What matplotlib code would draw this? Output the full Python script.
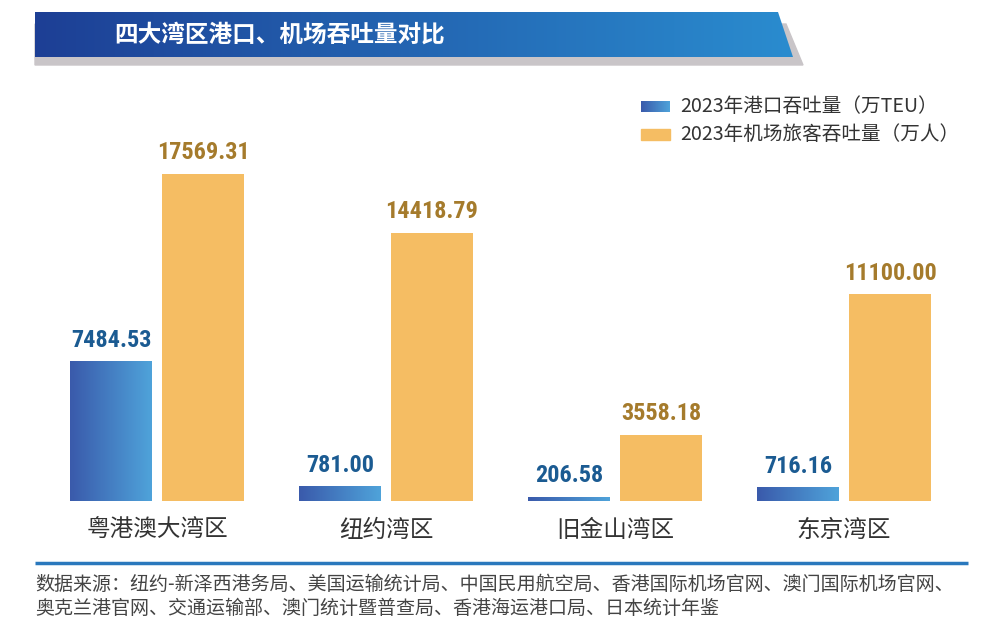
import matplotlib
matplotlib.use("Agg")
import matplotlib.pyplot as plt
import numpy as np
from matplotlib.patches import Polygon
from matplotlib import font_manager

plt.rcParams['font.family'] = ['Noto Sans CJK SC', 'DejaVu Sans']

# data
regions = ['粤港澳大湾区', '纽约湾区', '旧金山湾区', '东京湾区']
port_teu = [7484.53, 781.00, 206.58, 716.16]          # 万TEU
air_passengers = [17569.31, 14418.79, 3558.18, 11100.00]  # 万人
port_labels = ['7484.53', '781.00', '206.58', '716.16']
air_labels = ['17569.31', '14418.79', '3558.18', '11100.00']
legend_names = ['2023年港口吞吐量（万TEU）', '2023年机场旅客吞吐量（万人）']
title = '四大湾区港口、机场吞吐量对比'
source = ['数据来源：纽约-新泽西港务局、美国运输统计局、中国民用航空局、香港国际机场官网、澳门国际机场官网、',
          '奥克兰港官网、交通运输部、澳门统计暨普查局、香港海运港口局、日本统计年鉴']

# pick a narrow bold face for the numbers if one is installed
names = {f.name for f in font_manager.fontManager.ttflist}
num_kw = dict(family='Liberation Sans', fontsize=16)
for cand in ['Liberation Sans Narrow', 'DejaVu Sans Condensed', 'Roboto Condensed', 'Open Sans Condensed']:
    if cand in names:
        num_kw = dict(family=cand, fontsize=17.5)
        break
else:
    cond = [f for f in font_manager.fontManager.ttflist
            if f.name == 'DejaVu Sans' and f.stretch == 'condensed' and f.weight == 'bold']
    if cond:
        num_kw = dict(family='DejaVu Sans', stretch='condensed', fontsize=16.5)

W, H = 1000, 642
fig = plt.figure(figsize=(W / 100, H / 100), dpi=100)

# main axes in pixel layout: baseline at y=501, group centres at 157 + 229*i
ax_l, ax_r, ax_b, ax_t = 40, 970, 501, 80
ax = fig.add_axes([ax_l / W, 1 - ax_b / H, (ax_r - ax_l) / W, (ax_b - ax_t) / H])
step = 229.0
xlim = ((ax_l - 157) / step, (ax_r - 157) / step)
ylim = (0, (ax_b - ax_t) / 0.01861)

x = np.arange(len(regions))
bw = 82 / step
off = 46 / step

blue_cmap = matplotlib.colors.LinearSegmentedColormap.from_list('b', ['#3a5aab', '#4fa3da'])
orange = '#f5bd63'

bars_b = ax.bar(x - off, port_teu, bw, color='#4580c4', zorder=2)
ax.bar(x + off, air_passengers, bw, color=orange, zorder=2)

grad = np.linspace(0, 1, 256).reshape(1, -1)
for b in bars_b:
    x0, w, h = b.get_x(), b.get_width(), b.get_height()
    ax.imshow(grad, cmap=blue_cmap, extent=[x0, x0 + w, 0, h], aspect='auto', zorder=3)
ax.set_xlim(*xlim)
ax.set_ylim(*ylim)

for i in range(len(regions)):
    ax.annotate(port_labels[i], (x[i] - off, port_teu[i]), xytext=(0, 7), textcoords='offset points',
                ha='center', va='bottom', fontweight='bold', color='#1b5b92', **num_kw)
    ax.annotate(air_labels[i], (x[i] + off, air_passengers[i]), xytext=(0, 7), textcoords='offset points',
                ha='center', va='bottom', fontweight='bold', color='#a57b2c', **num_kw)

ax.set_xticks(x)
ax.set_xticklabels(regions, fontsize=17, color='#333333')
ax.tick_params(axis='x', length=0, pad=13)
ax.set_yticks([])
for s in ax.spines.values():
    s.set_visible(False)
ax.patch.set_alpha(0)

# overlay axes in pixel coordinates for decoration
ov = fig.add_axes([0, 0, 1, 1], zorder=-1)
ov.axis('off')

ov.add_patch(Polygon([(35, 24), (786, 24), (803, 65), (35, 65)], closed=True, color='#c9c5c8', zorder=1))
banner = Polygon([(35, 12), (778, 12), (793, 57), (35, 57)], closed=True, facecolor='none', edgecolor='none', zorder=2)
ov.add_patch(banner)
bcmap = matplotlib.colors.LinearSegmentedColormap.from_list('t', ['#1d3f95', '#2a8ccf'])
im = ov.imshow(grad, cmap=bcmap, extent=[35, 793, 57, 12], aspect='auto', zorder=2)
im.set_clip_path(banner)
ov.text(114, 35, title, color='white', fontsize=17, fontweight='bold', ha='left', va='center', zorder=3)

# legend
ov.imshow(grad, cmap=blue_cmap, extent=[641, 670, 112, 101], aspect='auto', zorder=2)
ov.add_patch(plt.Rectangle((641, 129), 29, 11, color=orange, zorder=2))
ov.text(680, 106, legend_names[0], fontsize=14.1, color='#333333', ha='left', va='center')
ov.text(680, 134, legend_names[1], fontsize=14.1, color='#333333', ha='left', va='center')

# footer
ov.plot([35, 968], [563, 563], color='#2a78bd', lw=2.5, solid_capstyle='butt')
ov.text(35, 584, source[0], fontsize=13.7, color='#444444', ha='left', va='center')
ov.text(35, 608, source[1], fontsize=13.7, color='#444444', ha='left', va='center')

ov.set_xlim(0, W)
ov.set_ylim(H, 0)

fig.savefig('out.png', dpi=100)
